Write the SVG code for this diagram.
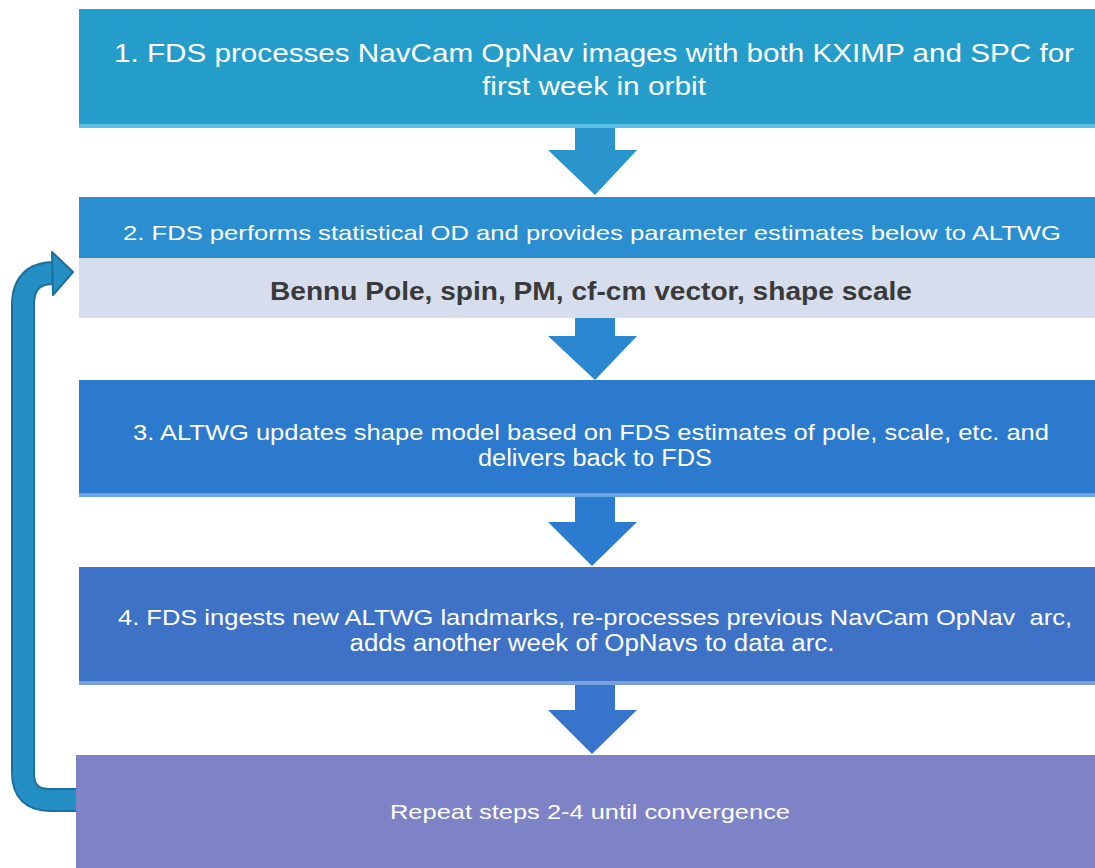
<svg xmlns="http://www.w3.org/2000/svg" width="1095" height="868" viewBox="0 0 1095 868">
<defs>
<style>
.t{font-family:"Liberation Sans",Arial,sans-serif;fill:#ffffff;text-anchor:middle}
.b{font-family:"Liberation Sans",Arial,sans-serif;fill:#3a3a3a;font-weight:bold;text-anchor:middle}
</style>
</defs>
<rect width="1095" height="868" fill="#ffffff"/>
<g id="connectors">
<path d="M575,128 H615 V150 H637 L595,195 L548,150 H575 Z" fill="#2a94cc"/>
<path d="M575,318 H615 V336 H637 L595,380 L548,336 H575 Z" fill="#2a88d0"/>
<path d="M575,497 H615 V522 H637 L592,566 L548,522 H575 Z" fill="#2b7bd0"/>
<path d="M575,685 H615 V710 H637 L592,754 L548,710 H575 Z" fill="#3775cc"/>
<path d="M78,800 H50 Q23,800 23,773 V305 Q23,273 54,273" fill="none" stroke="#1c6f9c" stroke-width="24"/>
<path d="M78,800 H50 Q23,800 23,773 V305 Q23,273 54,273" fill="none" stroke="#238fc4" stroke-width="20"/>
<path d="M52,252 L73,272 L53,295 Z" fill="#238fc4" stroke="#1c6f9c" stroke-width="2" stroke-linejoin="round"/>
</g>
<g id="n1">
<rect x="79" y="9" width="1016" height="119" fill="#249dcb"/>
<rect x="79" y="124" width="1016" height="4" fill="#5cc0e6"/>
<text class="t" x="594" y="62" font-size="25" textLength="960" lengthAdjust="spacingAndGlyphs">1. FDS processes NavCam OpNav images with both KXIMP and SPC for</text>
<text class="t" x="594" y="95" font-size="25" textLength="224" lengthAdjust="spacingAndGlyphs">first week in orbit</text>
</g>
<g id="n2">
<rect x="79" y="197" width="1016" height="61" fill="#2a8ed0"/>
<text class="t" x="592" y="240" font-size="21" textLength="938" lengthAdjust="spacingAndGlyphs">2. FDS performs statistical OD and provides parameter estimates below to ALTWG</text>
</g>
<g id="n2b">
<rect x="79" y="258" width="1016" height="60" fill="#d6deee"/>
<text class="b" x="591" y="300" font-size="25" textLength="642" lengthAdjust="spacingAndGlyphs">Bennu Pole, spin, PM, cf-cm vector, shape scale</text>
</g>
<g id="n3">
<rect x="79" y="380" width="1016" height="117" fill="#2b7acd"/>
<rect x="79" y="493" width="1016" height="4" fill="#6aa6e6"/>
<text class="t" x="591" y="440" font-size="22" textLength="916" lengthAdjust="spacingAndGlyphs">3. ALTWG updates shape model based on FDS estimates of pole, scale, etc. and</text>
<text class="t" x="595" y="466" font-size="23" textLength="234" lengthAdjust="spacingAndGlyphs">delivers back to FDS</text>
</g>
<g id="n4">
<rect x="79" y="567" width="1016" height="118" fill="#3d72c6"/>
<rect x="79" y="681" width="1016" height="4" fill="#7aa0e0"/>
<text class="t" x="595" y="625" font-size="22" textLength="954" lengthAdjust="spacingAndGlyphs" xml:space="preserve">4. FDS ingests new ALTWG landmarks, re-processes previous NavCam OpNav  arc,</text>
<text class="t" x="592" y="651" font-size="23" textLength="485" lengthAdjust="spacingAndGlyphs">adds another week of OpNavs to data arc.</text>
</g>
<g id="n5">
<rect x="76" y="755" width="1019" height="113" fill="#7e82c6"/>
<text class="t" x="590" y="819" font-size="21" textLength="400" lengthAdjust="spacingAndGlyphs">Repeat steps 2-4 until convergence</text>
</g>
</svg>
